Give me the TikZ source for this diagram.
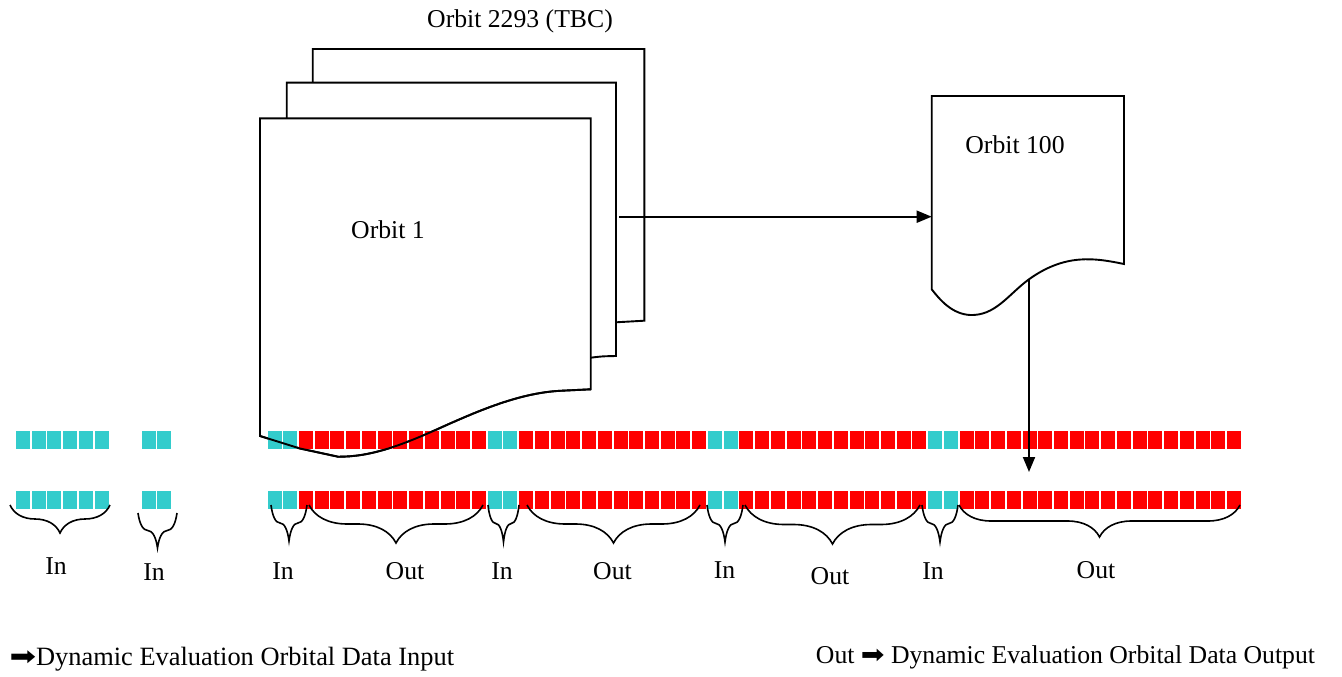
\documentclass[tikz,border=0pt]{standalone}
\usepackage{fontspec}
\setmainfont{Liberation Serif}
\newfontfamily\arrowfont{DejaVu Sans}
\usepackage{xcolor}
\usetikzlibrary{arrows.meta, decorations.pathreplacing}
\definecolor{incell}{RGB}{51,204,204}
\definecolor{outcell}{RGB}{255,0,0}

\begin{document}
\begin{tikzpicture}[x=1pt, y=-1pt, line width=1.9pt,
		every node/.style={font=\fontsize{25.7}{30}\selectfont, inner sep=0pt},
		page/.style={draw, fill=white},
		curly/.style={decorate, decoration={brace, mirror, amplitude=#1}, line width=1.6pt},
		flow/.style={-{Triangle[length=15pt, width=12pt]}},
		keytext/.style={font=\fontsize{26.4}{30}\selectfont}]
		\useasboundingbox (0,0) rectangle (1342,677);
		
		% stack of orbit pages
		\draw [page] (312.7,49) -- (644.3,49) -- (644.3,320.7) .. controls (630,321) .. (616,322.3) -- (312.7,330) -- cycle;
		\draw [page] (286.7,82.7) -- (616,82.7) -- (616,356) .. controls (602,356.3) .. (590.7,357.7) -- (286.7,370) -- cycle;
		\draw [page] (260,118.3) -- (590.7,118.3) -- (590.7,389.3) -- (560,390.8) .. controls (520,393) and (480,410) .. (440,428) .. controls (400,446) and (370,457) .. (338,456.7) -- (300,448.5) -- (260,436) -- cycle;
		
		\node (stacktop) at (520,21) {Orbit 2293 (TBC)};
		\node (orbitone) at (388,230) {Orbit 1};
		
		% single page
		\draw [page] (931.7,96) -- (1124,96) -- (1124,264) .. controls (1095,258) and (1065,253) .. (1028,280) .. controls (1008,295) and (995,316) .. (970,315) .. controls (952,314) and (940,300) .. (931.7,289.3) -- cycle;
		\node (orbithund) at (1015,145) {Orbit 100};
		
		% data cells
		\foreach \row in {431,490.5} {
			\foreach \i in {0,...,61}
				\fill [outcell] ({267.5+15.73*\i},\row) rectangle ++(14,18.4);
			\foreach \i in {0,1,14,15,28,29,42,43}
				\fill [incell] ({267.5+15.73*\i},\row) rectangle ++(14,18.4);
			\foreach \i in {0,...,5}
				\fill [incell] ({16+15.73*\i},\row) rectangle ++(14,18.4);
			\foreach \i in {0,1}
				\fill [incell] ({141.7+15.73*\i},\row) rectangle ++(14,18.4);
		}
		
		\draw (590.7,389.3) -- (560,390.8) .. controls (520,393) and (480,410) .. (440,428) .. controls (400,446) and (370,457) .. (338,456.7) -- (300,448.5) -- (260,436);
		
		\coordinate (stackout) at (619.3,216.7);
		\coordinate (pagein) at (931.7,216.7);
		\coordinate (pagewave) at (1029,279.5);
		\coordinate (cellrow) at (1029,472);
		\draw [flow] (stackout) -- (pagein);
		\draw [flow] (pagewave) -- (cellrow);
		
		% braces
		\draw [curly=28] (10,505) -- (110,505);
		\draw [curly=35] (138,513) -- (177,513);
		\draw [curly=36] (271,505) -- (307,505);
		\draw [curly=38] (309,505) -- (483,505);
		\draw [curly=37] (488,505) -- (519,505);
		\draw [curly=38] (527,505) -- (700,505);
		\draw [curly=37] (707,505) -- (743,505);
		\draw [curly=39] (745,505) -- (920,505);
		\draw [curly=37] (922,505) -- (958,505);
		\draw [curly=32] (959,505) -- (1240,505);
		
		\node (in1) at (56,566) {In};
		\node (in2) at (154,572) {In};
		\node (in3) at (283,571) {In};
		\node (out1) at (405,571) {Out};
		\node (in4) at (502,571) {In};
		\node (out2) at (612.5,571) {Out};
		\node (in5) at (724.5,570) {In};
		\node (out3) at (830,576) {Out};
		\node (in6) at (933,571) {In};
		\node (out4) at (1096,570) {Out};
		
		% key
		\node [keytext, anchor=base east] (inkey) at (455,665) {In\hspace{0.45em}{\arrowfont\scalebox{1.2}[1]{➡}}Dynamic Evaluation Orbital Data Input};
		\node [anchor=base west] (outkey) at (815,663) {Out {\arrowfont\scalebox{1.1}[1]{➡}} Dynamic Evaluation Orbital Data Output};
	\end{tikzpicture}
\end{document}
